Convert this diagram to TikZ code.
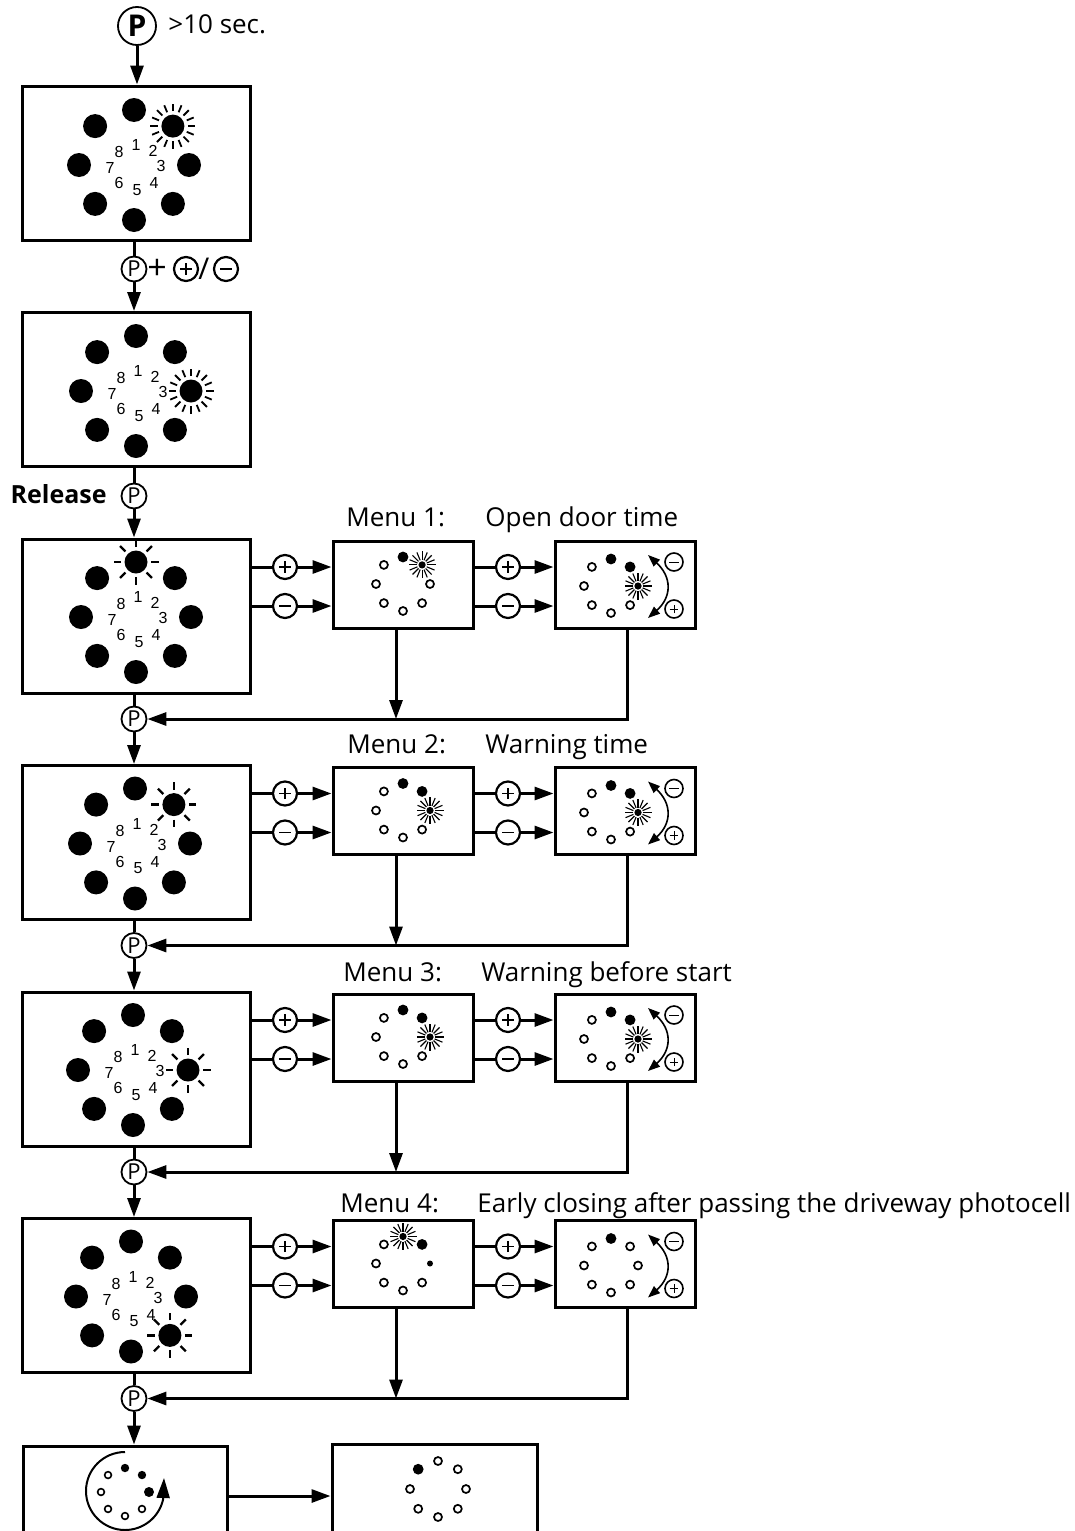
\documentclass[tikz,border=0pt]{standalone}
\usepackage{fontspec}
\setmainfont{Open Sans}
\newfontfamily\numfont{Liberation Sans}
\usetikzlibrary{arrows.meta}

\tikzset{
  conn/.style={line width=1.5pt},
  arr/.style={line width=1.5pt,-{Triangle[length=9.5pt,width=6.5pt]}},
  bigbox/.style={draw,line width=1.5pt,minimum width=114pt,minimum height=77pt,inner sep=0pt},
  smallbox/.style={draw,line width=1.5pt,minimum width=70pt,minimum height=43.5pt,inner sep=0pt},
  lowbox/.style={draw,line width=1.5pt,minimum height=77pt,inner sep=0pt},
  pcirc/.style={circle,draw,line width=0.9pt,minimum size=12.5pt,inner sep=0pt,font=\fontsize{11}{11}\selectfont},
  sgn/.style={circle,draw,line width=1.1pt,minimum size=12pt,inner sep=0pt},
  plussgn/.style={sgn,path picture={
     \draw[line width=0.6pt] ([xshift=-2.8pt]path picture bounding box.center) -- ([xshift=2.8pt]path picture bounding box.center);
     \draw[line width=0.6pt] ([yshift=-2.8pt]path picture bounding box.center) -- ([yshift=2.8pt]path picture bounding box.center);}},
  minussgn/.style={sgn,path picture={
     \draw[line width=0.6pt] ([xshift=-3pt]path picture bounding box.center) -- ([xshift=3pt]path picture bounding box.center);}},
  ssgn/.style={circle,draw,line width=0.8pt,minimum size=9pt,inner sep=0pt},
  splus/.style={ssgn,path picture={
     \draw[line width=0.5pt] ([xshift=-2.2pt]path picture bounding box.center) -- ([xshift=2.2pt]path picture bounding box.center);
     \draw[line width=0.5pt] ([yshift=-2.2pt]path picture bounding box.center) -- ([yshift=2.2pt]path picture bounding box.center);}},
  sminus/.style={ssgn,path picture={
     \draw[line width=0.5pt] ([xshift=-2.4pt]path picture bounding box.center) -- ([xshift=2.4pt]path picture bounding box.center);}},
  lab/.style={anchor=base west,font=\fontsize{13}{13}\selectfont,inner sep=0pt},
  num/.style={font=\numfont\fontsize{8}{8}\selectfont,inner sep=0pt},
  curv/.style={line width=0.8pt,{Triangle[length=6pt,width=4.5pt]}-{Triangle[length=6pt,width=4.5pt]}},
}

% big LED ring: cx, cy (screen, px), sun index, number of rays, name prefix, ray width
\newcommand\LedBig[6]{%
  \foreach \kk in {1,...,8}{%
    \pgfmathsetmacro\ang{90-45*(\kk-1)}%
    \ifnum\kk=#3\relax
      \fill (#1,-#2) ++(\ang:55) circle[radius=5.75pt];
      \foreach \jj in {1,...,#4}{%
        \pgfmathsetmacro\ra{\jj*360/#4}%
        \draw[line width=#6] (#1,-#2) ++(\ang:55) ++(\ra:15) -- ++(\ra:7.5);
      }%
    \else
      \fill (#1,-#2) ++(\ang:55) circle[radius=6pt];
    \fi
  }%
  \foreach \nn/\ux/\uy in {1/2/-20,2/19/-14,3/27/1,4/20/18,5/3/25,6/-15/18,7/-24/3,8/-15/-13}{%
    \node[num] (#5-\nn) at ({#1+(\ux)},{-(#2)-(\uy)}) {\nn};
  }%
}

% small LED ring: cx, cy (screen, px), radius, states
\newcommand\LedSmall[4]{%
  \foreach \st [count=\kk] in {#4}{%
    \pgfmathsetmacro\ang{90-45*(\kk-1)}%
    \ifcase\st\relax
      \draw[line width=0.85pt] (#1,-#2) ++(\ang:#3) circle[radius=2pt];
    \or
      \fill (#1,-#2) ++(\ang:#3) circle[radius=2.7pt];
    \or
      \fill (#1,-#2) ++(\ang:#3) circle[radius=1.8pt];
      \foreach \jj in {0,...,15}{%
        \pgfmathsetmacro\ra{\jj*22.5}%
        \draw[line width=0.55pt] (#1,-#2) ++(\ang:#3) ++(\ra:5) -- ++(\ra:8.5);
      }%
    \or
      \fill (#1,-#2) ++(\ang:#3) circle[radius=1.5pt];
    \or
      \draw[line width=0.8pt] (#1,-#2) ++(\ang:#3) circle[radius=1.7pt];
    \or
      \fill (#1,-#2) ++(\ang:#3) circle[radius=2.1pt];
    \or
      \fill (#1,-#2) ++(\ang:#3) circle[radius=2.5pt];
    \fi
  }%
}

% menu row: id, top T, ring cx, big sun index, middle states, right states
\newcommand\MenuRow[6]{%
  \pgfmathsetmacro\yb{-(#2+77)}%
  \pgfmathsetmacro\ym{-(#2+45.5)}%
  \pgfmathsetmacro\ya{-(#2+28)}%
  \pgfmathsetmacro\yc{-(#2+67)}%
  \pgfmathsetmacro\yp{-(#2+180)}%
  \pgfmathsetmacro\yq{-(#2+16)}%
  \pgfmathsetmacro\yr{-(#2+38)}%
  \pgfmathsetmacro\ys{-(#2+58)}%
  \pgfmathsetmacro\yt{-(#2+79)}%
  \pgfmathsetmacro\yu{-(#2+23)}%
  \pgfmathsetmacro\yv{-(#2+70)}%
  \pgfmathsetmacro\cyb{#2+78}%
  \pgfmathsetmacro\cym{#2+45}%
  \pgfmathsetmacro\cyr{#2+47}%
  \node[bigbox] (b#1) at (136,\yb) {};
  \node[smallbox] (m#1) at (403,\ym) {};
  \node[smallbox] (r#1) at (625,\ym) {};
  \node[plussgn] (pa#1) at (285,\ya) {};
  \node[minussgn] (pb#1) at (285,\yc) {};
  \node[plussgn] (pc#1) at (508,\ya) {};
  \node[minussgn] (pd#1) at (508,\yc) {};
  \node[pcirc] (pp#1) at (134,\yp) {P};
  \draw[conn] (b#1.east |- pa#1) -- (pa#1);
  \draw[arr] (pa#1) -- (m#1.west |- pa#1);
  \draw[conn] (b#1.east |- pb#1) -- (pb#1);
  \draw[arr] (pb#1) -- (m#1.west |- pb#1);
  \draw[conn] (m#1.east |- pc#1) -- (pc#1);
  \draw[arr] (pc#1) -- (r#1.west |- pc#1);
  \draw[conn] (m#1.east |- pd#1) -- (pd#1);
  \draw[arr] (pd#1) -- (r#1.west |- pd#1);
  \draw[conn] (pp#1 |- b#1.south) -- (pp#1.north);
  \coordinate (mx#1) at ([xshift=-3.5pt]m#1.south);
  \coordinate (rx#1) at ([xshift=1pt]r#1.south);
  \draw[arr] (rx#1) |- (pp#1);
  \draw[arr] (mx#1) -- (mx#1 |- pp#1);
  \draw[curv] (648,\yq) .. controls (672,\yr) and (672,\ys) .. (648,\yt);
  \node[sminus] (sm#1) at (674,\yu) {};
  \node[splus] (sp#1) at (674,\yv) {};
  \LedBig{#3}{\cyb}{#4}{8}{n#1}{1.2pt}
  \LedSmall{403}{\cym}{27}{#5}
  \LedSmall{611}{\cyr}{27}{#6}
}

\begin{document}
\begin{tikzpicture}[x=0.5pt,y=0.5pt]
\useasboundingbox (0,0) rectangle (1075,-1531);
\clip (0,0) rectangle (1075,-1531);

% top
\node[circle,draw,line width=0.9pt,minimum size=19pt,inner sep=0pt,font=\bfseries\fontsize{15}{15}\selectfont] (ptop) at (137,-26) {P};
\node[lab] (tsec) at (168,-33) {>10 sec.};
\node[bigbox] (s1) at (136,-163) {};
\draw[arr] (ptop.south) -- (ptop |- s1.north);
\LedBig{134}{165}{2}{16}{na}{0.9pt}

\node[pcirc] (pmid) at (134,-269) {P};
\node[font=\fontsize{17}{17}\selectfont,inner sep=0pt] (plus0) at (157,-269) {+};
\node[plussgn] (sg1) at (186,-269) {};
\node[font=\fontsize{15}{15}\selectfont,inner sep=0pt] (sl0) at (204,-269) {/};
\node[minussgn] (sg2) at (226,-269) {};
\draw[conn] (pmid |- s1.south) -- (pmid.north);

\node[bigbox] (s2) at (136,-389.5) {};
\draw[arr] (pmid.south) -- (pmid |- s2.north);
\LedBig{136}{391}{3}{16}{nb}{0.9pt}

\node[font=\bfseries\fontsize{12.5}{12.5}\selectfont,anchor=base east,inner sep=0pt] (rel) at (107,-503) {Release};
\node[pcirc] (prel) at (134,-496) {P};
\draw[conn] (prel |- s2.south) -- (prel.north);

% menus
\MenuRow{1}{539}{136}{1}{1,2,0,0,0,0,0,0}{1,1,2,0,0,0,0,0}
\MenuRow{2}{765.5}{135}{2}{1,1,2,0,0,0,0,0}{1,1,2,0,0,0,0,0}
\MenuRow{3}{992}{133}{3}{1,1,2,0,0,0,0,0}{1,1,2,0,0,0,0,0}
\MenuRow{4}{1218.5}{131}{4}{2,1,3,0,0,0,0,0}{1,0,0,0,0,0,0,0}

\draw[arr] (prel.south) -- (prel |- b1.north);
\draw[arr] (pp1.south) -- (pp1 |- b2.north);
\draw[arr] (pp2.south) -- (pp2 |- b3.north);
\draw[arr] (pp3.south) -- (pp3 |- b4.north);

\node[lab] (ma1) at (346,-526) {Menu 1:};
\node[lab] (mb1) at (485,-526) {Open door time};
\node[lab] (ma2) at (347,-753) {Menu 2:};
\node[lab] (mb2) at (485,-753) {Warning time};
\node[lab] (ma3) at (343,-981) {Menu 3:};
\node[lab] (mb3) at (481,-981) {Warning before start};
\node[lab] (ma4) at (340,-1212) {Menu 4:};
\node[lab] (mb4) at (477,-1212) {Early closing after passing the driveway photocell};

% bottom
\node[lowbox,minimum width=102pt] (bl) at (125,-1523) {};
\node[lowbox,minimum width=102.5pt] (br) at (434.5,-1521) {};
\draw[arr] (pp4.south) -- (pp4 |- bl.north);
\coordinate (ya) at (0,-1496);
\draw[arr] (bl.east |- ya) -- (br.west |- ya);
\draw[line width=1pt,-{Triangle[length=10pt,width=6.5pt]}] (125,-1452) arc[start angle=90,end angle=348,radius=19.5pt] -- (164,-1478);
\LedSmall{125}{1492}{24}{5,5,6,4,4,4,4,4}
\LedSmall{438}{1489}{28}{0,0,0,0,0,0,0,1}
\end{tikzpicture}
\end{document}
